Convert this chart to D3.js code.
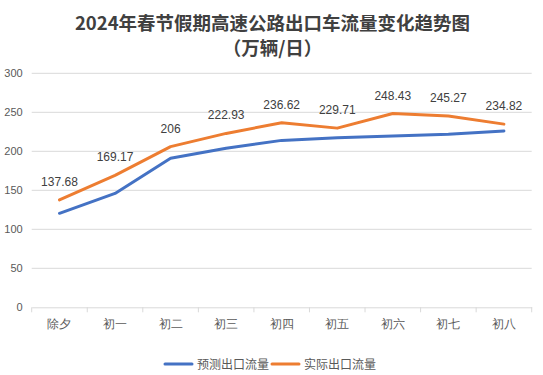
<!DOCTYPE html>
<html>
<head>
<meta charset="utf-8">
<script src="https://cdn.jsdelivr.net/npm/d3@7"></script>
<style>
  body { margin: 0; background: #fff; }
  svg { display: block; font-family: "Noto Sans CJK SC", "Liberation Sans", sans-serif; }
</style>
</head>
<body>
<svg id="chart"></svg>
<script>
const days = ["除夕", "初一", "初二", "初三", "初四", "初五", "初六", "初七", "初八"];
const forecast = [120.5, 146, 191, 204, 214, 217.5, 219.6, 221.8, 226];
const actual = [137.68, 169.17, 206, 222.93, 236.62, 229.71, 248.43, 245.27, 234.82];
const yTicks = [0, 50, 100, 150, 200, 250, 300];
const seriesNames = ["预测出口流量", "实际出口流量"];
const colors = ["#4472C4", "#ED7D31"];

const width = 543, height = 375;
const margin = { top: 73.3, right: 11.3, bottom: 67.7, left: 31.7 };
const innerW = width - margin.left - margin.right;
const innerH = height - margin.top - margin.bottom;

const svg = d3.select("#chart").attr("width", width).attr("height", height);

// title, two lines
svg.append("text")
    .attr("x", width / 2 + 1).attr("y", 30)
    .attr("text-anchor", "middle")
    .attr("fill", "#404040")
    .style("font-weight", "bold")
    .style("font-size", "18.5px")
    .text("2024年春节假期高速公路出口车流量变化趋势图");
svg.append("text")
    .attr("x", width / 2 + 1).attr("y", 55)
    .attr("text-anchor", "middle")
    .attr("fill", "#404040")
    .style("font-weight", "bold")
    .style("font-size", "18.5px")
    .text("（万辆/日）");

const g = svg.append("g").attr("transform", `translate(${margin.left}, ${margin.top})`);

const x = d3.scaleBand().domain(days).range([0, innerW]);
const y = d3.scaleLinear().domain([0, 300]).range([innerH, 0]);

// gridlines
g.append("g")
    .selectAll("line")
    .data(yTicks.filter(d => d > 0))
    .join("line")
    .attr("x1", 0).attr("x2", innerW)
    .attr("y1", d => y(d)).attr("y2", d => y(d))
    .attr("stroke", "#d9d9d9").attr("stroke-width", 1);

// y axis labels
const yAxis = g.append("g").call(d3.axisLeft(y).tickValues(yTicks).tickSize(0).tickPadding(9));
yAxis.select(".domain").remove();
yAxis.selectAll("text").attr("fill", "#595959").style("font-size", "11px")
    .style("font-family", "'Liberation Sans', sans-serif");

// x axis
const xAxis = g.append("g")
    .attr("transform", `translate(0, ${innerH})`)
    .call(d3.axisBottom(x).tickSize(0).tickPadding(12));
xAxis.select(".domain").attr("stroke", "#d9d9d9");
xAxis.selectAll("text").attr("fill", "#595959").style("font-size", "12px");
xAxis.selectAll(".sep")
    .data(d3.range(days.length + 1))
    .join("line")
    .attr("class", "sep")
    .attr("x1", i => i * x.bandwidth()).attr("x2", i => i * x.bandwidth())
    .attr("y1", 0).attr("y2", 5)
    .attr("stroke", "#d9d9d9");

const cx = d => x(d) + x.bandwidth() / 2;
const line = d3.line().x((v, i) => cx(days[i])).y(v => y(v));

[forecast, actual].forEach((s, k) => {
    g.append("path")
        .datum(s)
        .attr("fill", "none")
        .attr("stroke", colors[k])
        .attr("stroke-width", 3)
        .attr("stroke-linejoin", "round")
        .attr("stroke-linecap", "round")
        .attr("d", line);
});

// value labels on actual
g.append("g")
    .selectAll("text")
    .data(actual)
    .join("text")
    .attr("x", (v, i) => cx(days[i]))
    .attr("y", v => y(v) - 14)
    .attr("text-anchor", "middle")
    .attr("fill", "#404040")
    .style("font-size", "12px")
    .style("font-family", "'Liberation Sans', sans-serif")
    .text(v => v);

// legend
const legend = svg.append("g").attr("transform", "translate(0, 364)");
const legendX = [165, 272];
seriesNames.forEach((name, k) => {
    legend.append("line")
        .attr("x1", legendX[k]).attr("x2", legendX[k] + 27)
        .attr("y1", 0).attr("y2", 0)
        .attr("stroke", colors[k]).attr("stroke-width", 3)
        .attr("stroke-linecap", "round");
    legend.append("text")
        .attr("x", legendX[k] + 32)
        .attr("y", 4.5)
        .attr("fill", "#595959")
        .style("font-size", "12px")
        .text(name);
});
</script>
</body>
</html>
